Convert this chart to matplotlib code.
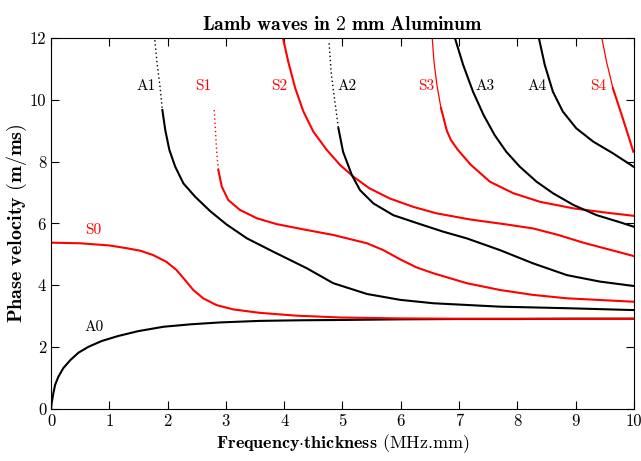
import matplotlib
matplotlib.use("Agg")
import matplotlib.pyplot as plt
from matplotlib.ticker import FormatStrFormatter

# ---------------------------------------------------
# Data (fd in MHz.mm, v in m/ms)
# ---------------------------------------------------

a0_fd = [0.0, 0.01, 0.04, 0.07, 0.125, 0.21, 0.33, 0.47, 0.64, 0.87, 1.15, 1.5,
         1.93, 2.4, 2.9, 3.58, 4.3, 5.0, 6.0, 7.0, 8.0, 9.0, 10.0]
a0_v = [0.0, 0.18, 0.51, 0.78, 1.04, 1.32, 1.58, 1.82, 2.01, 2.2, 2.36, 2.52,
        2.66, 2.74, 2.8, 2.85, 2.87, 2.88, 2.9, 2.91, 2.91, 2.92, 2.92]

s0_fd = [0.0, 0.5, 1.0, 1.3, 1.53, 1.75, 1.98, 2.15, 2.3, 2.44, 2.61, 2.84,
         3.13, 3.58, 4.2, 4.96, 6.0, 7.0, 8.0, 9.0, 10.0]
s0_v = [5.38, 5.36, 5.29, 5.2, 5.12, 4.98, 4.76, 4.5, 4.17, 3.85, 3.58, 3.36,
        3.22, 3.11, 3.02, 2.96, 2.93, 2.92, 2.92, 2.92, 2.92]

a1_fd = [1.78, 1.82, 1.87, 1.91, 1.96, 2.03, 2.13, 2.27, 2.47, 2.73, 3.01, 3.36,
         3.81, 4.39, 4.84, 5.42, 5.99, 6.56, 7.7, 8.85, 9.99]
a1_v = [11.93, 11.18, 10.42, 9.67, 9.02, 8.38, 7.84, 7.3, 6.87, 6.4, 5.97, 5.52,
        5.09, 4.55, 4.07, 3.72, 3.53, 3.42, 3.31, 3.26, 3.2]

s1_fd = [2.8, 2.82, 2.84, 2.87, 2.93, 3.04, 3.24, 3.53, 3.87, 4.33, 4.84, 5.42,
         5.7, 5.99, 6.27, 6.56, 7.13, 7.7, 8.27, 8.85, 9.99]
s1_v = [9.67, 9.02, 8.38, 7.73, 7.19, 6.76, 6.44, 6.17, 5.98, 5.81, 5.63, 5.36,
        5.14, 4.84, 4.58, 4.39, 4.07, 3.85, 3.69, 3.58, 3.47]

s2_fd = [3.98, 4.07, 4.19, 4.33, 4.5, 4.73, 4.96, 5.19, 5.46, 5.81, 6.21, 6.61,
         7.19, 7.81, 8.27, 8.7, 9.13, 9.99]
s2_v = [11.99, 11.23, 10.37, 9.62, 8.97, 8.38, 7.89, 7.51, 7.14, 6.81, 6.54,
        6.33, 6.13, 5.97, 5.84, 5.63, 5.38, 4.95]

a2_fd = [4.77, 4.81, 4.87, 4.93, 5.01, 5.16, 5.3, 5.53, 5.87, 6.33, 6.72, 7.13,
         7.7, 8.27, 8.85, 9.42, 9.99]
a2_v = [11.83, 10.8, 9.94, 9.08, 8.32, 7.57, 7.08, 6.65, 6.27, 5.98, 5.74, 5.52,
        5.14, 4.71, 4.33, 4.12, 3.98]

s3_fd = [6.54, 6.57, 6.62, 6.69, 6.79, 6.86, 6.98, 7.2, 7.53, 7.93, 8.39, 8.96,
         9.53, 9.99]
s3_v = [11.99, 11.23, 10.48, 9.73, 9.0, 8.7, 8.38, 7.9, 7.35, 6.98, 6.7, 6.49,
        6.35, 6.25]

a3_fd = [6.93, 7.07, 7.24, 7.42, 7.61, 7.81, 8.04, 8.33, 8.61, 8.96, 9.36, 9.76,
         9.99]
a3_v = [11.99, 11.13, 10.26, 9.51, 8.86, 8.32, 7.84, 7.35, 6.98, 6.6, 6.27,
        6.04, 5.9]

a4_fd = [8.37, 8.47, 8.61, 8.78, 9.01, 9.3, 9.64, 9.99]
a4_v = [11.99, 11.13, 10.26, 9.62, 9.08, 8.65, 8.27, 7.84]

s4_fd = [9.45, 9.53, 9.64, 9.79, 9.9, 9.99]
s4_v = [11.99, 11.23, 10.37, 9.51, 8.86, 8.32]

mode_names = ["A0", "S0", "A1", "S1", "S2", "A2", "S3", "A3", "A4", "S4"]
label_fd = [0.74, 0.73, 1.63, 2.61, 3.92, 5.08, 6.43, 7.44, 8.34, 9.38]
label_v = [2.66, 5.77, 10.45, 10.45, 10.45, 10.45, 10.45, 10.45, 10.45, 10.45]

# ---------------------------------------------------
# Plot
# ---------------------------------------------------

plt.rcParams["mathtext.fontset"] = "cm"
plt.rcParams["font.family"] = ["cmr10", "DejaVu Serif"]
plt.rcParams["axes.formatter.use_mathtext"] = True

fig = plt.figure(figsize=(6.41, 4.61), dpi=100)
ax = fig.add_axes([0.0796, 0.1128, 0.9094, 0.8048])

# (fd, v, colour, leading segments drawn dotted, leading segments drawn thin)
curves = [
    (a0_fd, a0_v, "black", 0, 0),
    (s0_fd, s0_v, "red", 0, 0),
    (a1_fd, a1_v, "black", 3, 0),
    (s1_fd, s1_v, "red", 3, 0),
    (s2_fd, s2_v, "red", 0, 0),
    (a2_fd, a2_v, "black", 3, 0),
    (s3_fd, s3_v, "red", 0, 3),
    (a3_fd, a3_v, "black", 0, 0),
    (a4_fd, a4_v, "black", 0, 0),
    (s4_fd, s4_v, "red", 0, 2),
]

for fd, v, col, ndot, nthin in curves:
    start = 0
    if ndot > 0:
        ax.plot(fd[:ndot + 1], v[:ndot + 1], color=col,
                linestyle=(0, (1, 2)), linewidth=1.0)
        start = ndot
    if nthin > 0:
        ax.plot(fd[:nthin + 1], v[:nthin + 1], color=col, linewidth=0.9)
        start = nthin
    ax.plot(fd[start:], v[start:], color=col, linewidth=1.5)

for name, x, y in zip(mode_names, label_fd, label_v):
    col = "red" if name.startswith("S") else "black"
    ax.text(x, y, name, color=col, fontsize=11, ha="center", va="center")

ax.set_xlim(0, 10)
ax.set_ylim(0, 12)
ax.set_xticks(range(0, 11))
ax.set_yticks(range(0, 13, 2))
ax.xaxis.set_major_formatter(FormatStrFormatter("%d"))
ax.yaxis.set_major_formatter(FormatStrFormatter("%d"))
ax.tick_params(direction="in", top=True, right=True, length=6, labelsize=12)

ax.set_title(r"$\mathbf{Lamb\ waves\ in\ 2\ mm\ Aluminum}$", fontsize=14.2)
ax.set_xlabel(r"$\mathbf{Frequency{\cdot}thickness}$ (MHz.mm)",
              fontsize=13, labelpad=2)
ax.set_ylabel(r"$\mathbf{Phase\ velocity\ (m/ms)}$", fontsize=14.5)
ax.yaxis.set_label_coords(-0.038, 0.5)

plt.savefig("out.png", dpi=100)
plt.close()
